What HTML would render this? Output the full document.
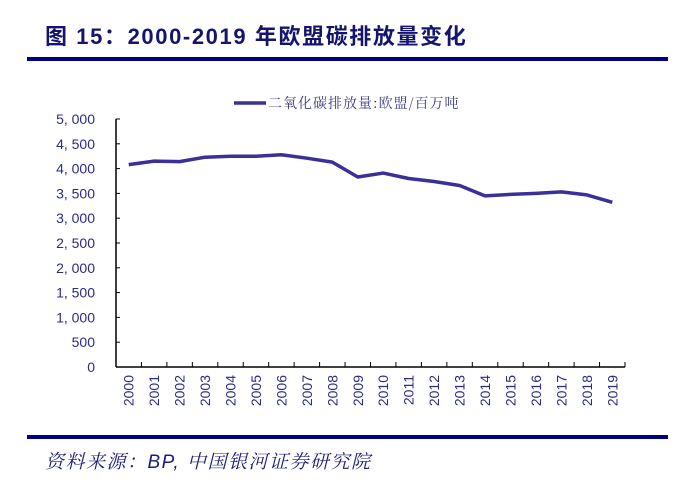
<!DOCTYPE html>
<html><head><meta charset="utf-8"><style>
body{margin:0;background:#fff;width:687px;height:485px;overflow:hidden;font-family:"Liberation Sans","Noto Sans CJK SC",sans-serif}
</style></head><body>
<svg width="687" height="485" xmlns="http://www.w3.org/2000/svg">
<text x="45" y="44" font-size="22" font-weight="bold" letter-spacing="1.6" fill="#14146e" font-family="'Liberation Sans','Noto Sans CJK SC',sans-serif">图 15：2000-2019 年欧盟碳排放量变化</text>
<rect x="27" y="57" width="641" height="4" fill="#00007f"/>
<g>
<line x1="234" y1="103" x2="266" y2="103" stroke="#3b2f9a" stroke-width="3.5"/>
<text x="268" y="108" font-size="14" letter-spacing="1" fill="#3a3a8a" font-family="'Noto Serif CJK SC',serif">二氧化碳排放量:欧盟/百万吨</text>
</g>
<g id="axes"></g>
<g id="marks"></g>
<rect x="27" y="435" width="641" height="4" fill="#00007f"/>
<text x="45" y="468" font-size="19" font-style="italic" letter-spacing="1.5" fill="#1c1c7a" font-family="'Liberation Sans','Noto Serif CJK SC',serif">资料来源：BP, 中国银河证券研究院</text>
</svg>
<script>
const years=["2000","2001","2002","2003","2004","2005","2006","2007","2008","2009","2010","2011","2012","2013","2014","2015","2016","2017","2018","2019"];
const emissions=[4080,4150,4140,4230,4250,4250,4280,4210,4130,3830,3910,3800,3740,3660,3450,3480,3500,3530,3470,3320];
const yTicks=[0,500,1000,1500,2000,2500,3000,3500,4000,4500,5000];
const NS="http://www.w3.org/2000/svg";
const X0=116,X1=625,Y0=367,Y1=119;
const bw=(X1-X0)/years.length;
function xs(i){return X0+bw*(i+0.5);}
function ys(v){return Y0-(v/5000)*(Y0-Y1);}
function mk(t,a,p){const e=document.createElementNS(NS,t);for(const k in a)e.setAttribute(k,a[k]);p.appendChild(e);return e;}
const ax=document.getElementById('axes'),mg=document.getElementById('marks');
const ya=mk('line',{x1:X0,y1:Y1,x2:X0,y2:Y0,stroke:'#000','stroke-width':1.5},ax);


const xa=mk('line',{x1:X0,y1:Y0,x2:X1,y2:Y0,stroke:'#000','stroke-width':1.5},ax);


yTicks.forEach(v=>{
 const y=ys(v);
 const t=mk('line',{x1:X0,y1:y,x2:X0+4,y2:y,stroke:'#000','stroke-width':1},ax);
 
 
 const l=mk('text',{x:95,y:y+5,'font-size':14,fill:'#2a2a88','text-anchor':'end'},ax);
 
 
 l.textContent=v.toLocaleString('en-US').replace(',',', ');
});
years.forEach((yr,i)=>{
 const tx=X0+bw*(i+1);
 const t=mk('line',{x1:tx,y1:Y0,x2:tx,y2:Y0-5,stroke:'#000','stroke-width':1},ax);
 
 
 const cx=xs(i);
 const l=mk('text',{x:0,y:0,'font-size':14,fill:'#2a2a88','text-anchor':'end',transform:`translate(${cx+5},${Y0+8}) rotate(-90)`},ax);
 
 
 l.textContent=yr;
});
const pts=emissions.map((v,i)=>xs(i)+','+ys(v)).join(' ');
const pl=mk('polyline',{points:pts,fill:'none',stroke:'#3b2f9a','stroke-width':3.5,'stroke-linejoin':'round'},mg);


</script>
</body></html>
